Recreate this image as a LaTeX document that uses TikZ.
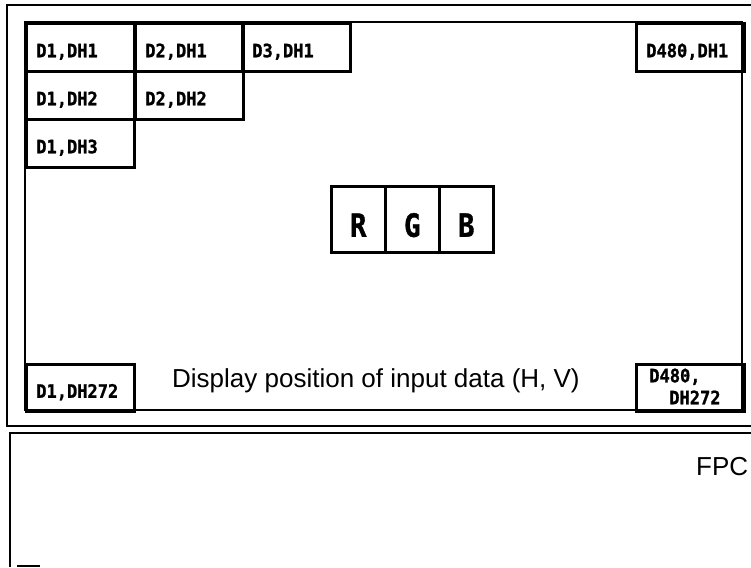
\documentclass[tikz,border=0pt]{standalone}
\usepackage{fontspec}
\setmainfont{Liberation Sans}
\newfontfamily\cellfont[FakeStretch=0.92,FakeBold=1.2]{DejaVu Sans Mono}
\newfontfamily\rgbfont[FakeStretch=0.85,FakeBold=1.2]{DejaVu Sans Mono}
\begin{document}
\begin{tikzpicture}[x=1pt,y=-1pt,
  frameline/.style={line width=2.6pt},
  outerline/.style={line width=1.8pt},
  cell/.style={draw, line width=2.6pt, anchor=north west,
    minimum height=48pt, inner xsep=10pt, inner ysep=0pt,
    text width=88pt, align=left, text height=20pt, text depth=0pt,
    font=\cellfont\bfseries\fontsize{18.5}{22}\selectfont},
  rgbbox/.style={draw, line width=2.6pt, anchor=north west,
    minimum width=54pt, minimum height=66pt, inner sep=0pt,
    text height=35pt, text depth=0pt,
    font=\rgbfont\bfseries\fontsize{32}{32}\selectfont},
  lbl/.style={inner sep=0pt, anchor=base west, font=\fontsize{26}{30}\selectfont}]
\useasboundingbox (0,0) rectangle (751,567);
% outer frame (open to the right)
\draw[outerline] (751,5) -- (7,5) -- (7,426) -- (751,426);
% inner display frame
\draw[frameline] (25,22) rectangle (742,410);
% FPC frame
\draw[outerline] (751,433) -- (10,433) -- (10,567);
\draw[line width=2.4pt] (17,566) -- (40,566);
% cells
\node[cell] (c11) at (25,22) {D1,DH1};
\node[cell] (c21) at (134,22) {D2,DH1};
\node[cell] (c31) at (241,22) {D3,DH1};
\node[cell] (c4801) at (635,22) {D480,DH1};
\node[cell] (c12) at (25,70) {D1,DH2};
\node[cell] (c22) at (134,70) {D2,DH2};
\node[cell] (c13) at (25,118) {D1,DH3};
\node[cell, minimum height=47pt] (c1272) at (25,363) {D1,DH272};
\node[cell, minimum height=47pt, inner xsep=13pt, text width=82pt,
      text height=13pt, text depth=24pt] (c480272) at (635,363)
      {D480,\\\hspace*{20pt}DH272};
% RGB
\node[rgbbox] (r) at (330,185) {R};
\node[rgbbox] (g) at (384,185) {G};
\node[rgbbox] (b) at (438,185) {B};
% labels
\node[lbl] (disp) at (172,387) {Display position of input data (H, V)};
\node[lbl] (fpc) at (696,475) {FPC};
\end{tikzpicture}
\end{document}
